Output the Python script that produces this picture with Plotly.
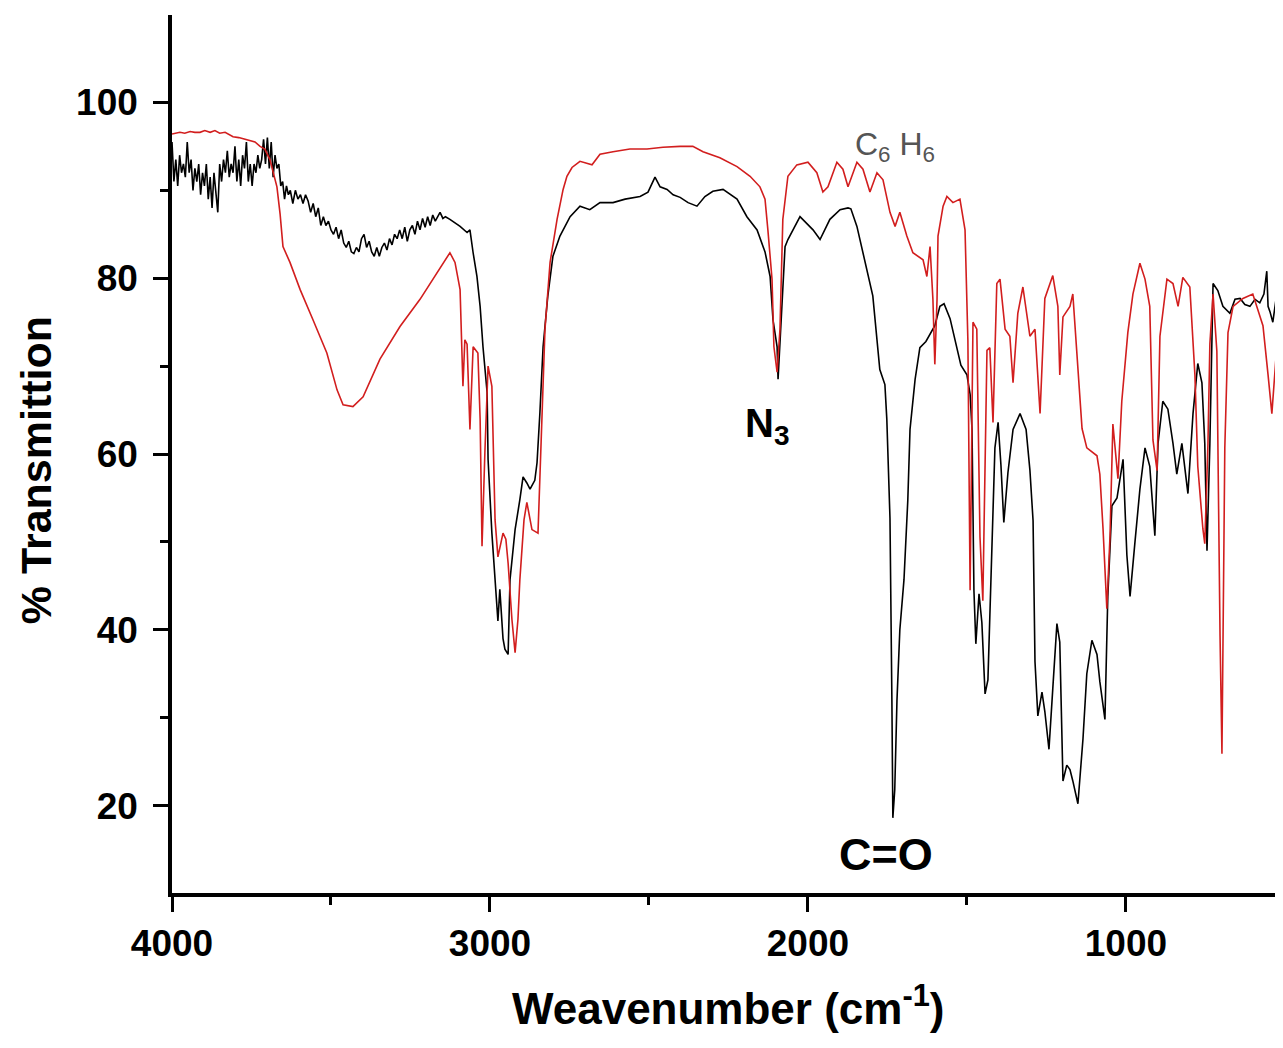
import plotly.graph_objects as go

# ---------------- data (wavenumber cm-1, % transmittance) ----------------
sample_wn = [4000, 3994, 3988, 3982, 3976, 3970, 3964, 3958, 3952, 3946, 3940, 3934, 3928, 3922,
             3916, 3910, 3904, 3898, 3892, 3886, 3880, 3874, 3868, 3862, 3856, 3850, 3844, 3838,
             3832, 3826, 3820, 3814, 3808, 3802, 3796, 3790, 3784, 3778, 3772, 3766, 3760, 3754,
             3748, 3742, 3736, 3730, 3724, 3718, 3712, 3706, 3700, 3694, 3688, 3682, 3676, 3670,
             3664, 3658, 3652, 3646, 3640, 3634, 3628, 3620, 3612, 3604, 3596, 3588, 3580, 3572,
             3564, 3556, 3548, 3540, 3532, 3524, 3516, 3508, 3500, 3492, 3484, 3476, 3468, 3460,
             3452, 3444, 3436, 3428, 3420, 3412, 3404, 3396, 3388, 3380, 3372, 3364, 3356, 3348,
             3340, 3332, 3324, 3316, 3308, 3300, 3292, 3284, 3276, 3268, 3260, 3252, 3244, 3236,
             3228, 3220, 3212, 3204, 3196, 3188, 3180, 3172, 3164, 3157, 3148, 3140, 3126, 3110,
             3094, 3072, 3063, 3053, 3041, 3031, 3022, 3009, 3006, 2994, 2984, 2975, 2969, 2959,
             2953, 2943, 2937, 2921, 2906, 2896, 2884, 2874, 2859, 2852, 2843, 2833, 2818, 2802,
             2780, 2748, 2717, 2686, 2654, 2613, 2575, 2528, 2503, 2481, 2465, 2443, 2424, 2402,
             2377, 2349, 2324, 2299, 2267, 2245, 2223, 2192, 2160, 2135, 2119, 2110, 2097, 2094,
             2088, 2082, 2072, 2063, 2025, 1984, 1962, 1931, 1899, 1874, 1865, 1846, 1821, 1796,
             1774, 1758, 1752, 1742, 1736, 1733, 1727, 1720, 1711, 1698, 1686, 1679, 1663, 1648,
             1629, 1601, 1585, 1572, 1553, 1535, 1519, 1500, 1490, 1484, 1478, 1472, 1462, 1453,
             1443, 1434, 1424, 1412, 1402, 1393, 1384, 1371, 1355, 1333, 1314, 1302, 1292, 1286,
             1277, 1264, 1255, 1242, 1230, 1217, 1208, 1198, 1186, 1176, 1167, 1151, 1135, 1123,
             1107, 1091, 1082, 1066, 1057, 1044, 1028, 1009, 997, 987, 972, 956, 940, 925, 909,
             899, 884, 868, 852, 840, 824, 805, 789, 774, 761, 752, 745, 736, 726, 711, 695, 673,
             657, 641, 626, 610, 594, 579, 566, 557, 553, 547, 538, 528, 522, 509, 506]
sample_t = [95.5, 91, 93.5, 90.5, 94, 92, 93, 91.5, 95.5, 92, 93.5, 90, 92.5, 91,
            93, 89.5, 92, 90.5, 93, 89, 91.5, 88, 92, 90, 87.5, 93, 91, 93.5,
            92, 94.5, 91.5, 93, 92, 95, 91, 93.5, 90.5, 94, 92.5, 95.5, 91, 93,
            90.5, 93, 92, 94, 92.5, 93.5, 95.8, 93, 96, 92.5, 95.5, 91.5, 94, 92.5,
            93, 90.5, 91, 89, 90.5, 89.5, 90, 88.5, 90, 89, 89.5, 88.5, 89.5, 88.8,
            87.5, 88.5, 87, 88, 86, 87, 86, 86.5, 85.5, 85, 85.8, 84.5, 85.5, 84,
            83.5, 84.2, 83, 82.8, 83.5, 83, 84.5, 85, 83.5, 84.2, 83, 82.5, 83.5, 82.5,
            83.5, 84, 83.2, 84.5, 83.8, 85, 84.5, 85.5, 84.5, 85.8, 84.2, 85.5, 86, 85,
            86.5, 85.5, 86.8, 85.8, 87, 86, 87.2, 86.5, 87, 87.5, 86.8, 87, 86.7, 86.3,
            85.9, 85.2, 85.5, 82.9, 80.2, 76.8, 72.2, 67, 59.4, 51, 46, 41, 44.6, 39,
            37.8, 37.2, 45.7, 51.4, 54.8, 57.4, 56.7, 56, 57, 59, 64.7, 72.2, 78, 82.5,
            84.8, 87, 88.2, 87.8, 88.6, 88.6, 89, 89.3, 89.8, 91.5, 90.4, 90.1, 89.5, 89.2,
            88.6, 88.2, 89.3, 89.9, 90.1, 89.5, 89, 87, 85.5, 83, 80.2, 75.3, 72.2, 68.5,
            73, 76, 83.6, 84.4, 87, 85.5, 84.4, 86.7, 87.8, 88, 87.9, 85.9, 81.9, 78,
            69.6, 67.9, 64, 52.7, 32, 18.6, 21.8, 32, 40, 45.7, 54.7, 62.8, 68.5, 72.1,
            72.8, 74.6, 76.8, 77.1, 75.4, 72.5, 70.1, 69, 66.8, 62.8, 44.5, 38.4, 44.1, 40.8,
            32.7, 34.3, 47.3, 60.7, 63.6, 58.7, 52.2, 57.9, 62.8, 64.6, 62.8, 58.2, 52.4, 36.4,
            30.2, 32.9, 30.7, 26.4, 33.3, 40.7, 38.6, 22.8, 24.6, 24.1, 22.8, 20.2, 27.6, 35,
            38.8, 37.2, 34.1, 29.8, 43.8, 54.1, 55, 59.4, 48.5, 43.8, 49.8, 56, 60.7, 58.6, 50.7,
            61.2, 66, 65.1, 61.2, 57.7, 61.2, 55.5, 64.6, 70.3, 68.1, 61.2, 49, 61.2, 79.4, 78.6, 76.8, 76,
            77.6, 77.7, 77, 76.8, 77.6, 77.2, 78.2, 80.8, 76.8, 76.2, 75, 77.6, 68.6, 71.7, 73]

ref_wn = [4000, 3990, 3975, 3960, 3943, 3928, 3912, 3897, 3880, 3865, 3850, 3833, 3820, 3808,
          3790, 3770, 3755, 3739, 3723, 3708, 3692, 3670, 3660, 3651, 3629, 3597, 3557, 3513,
          3481, 3462, 3431, 3399, 3346, 3283, 3220, 3179, 3126, 3110, 3094, 3085, 3079, 3072,
          3063, 3053, 3038, 3031, 3025, 3016, 3006, 2994, 2984, 2975, 2959, 2950, 2943, 2931,
          2921, 2912, 2906, 2893, 2884, 2868, 2849, 2836, 2827, 2811, 2789, 2770, 2758, 2742,
          2717, 2679, 2654, 2613, 2560, 2506, 2456, 2402, 2362, 2330, 2277, 2223, 2182, 2151,
          2135, 2126, 2113, 2107, 2097, 2088, 2082, 2079, 2063, 2035, 2000, 1972, 1953, 1937,
          1909, 1890, 1874, 1846, 1827, 1805, 1783, 1764, 1742, 1726, 1711, 1689, 1670, 1638,
          1626, 1616, 1607, 1601, 1594, 1591, 1575, 1563, 1544, 1522, 1506, 1497, 1490, 1481,
          1469, 1459, 1450, 1443, 1437, 1428, 1418, 1406, 1396, 1380, 1365, 1355, 1340, 1324,
          1302, 1286, 1270, 1255, 1230, 1214, 1208, 1198, 1176, 1167, 1151, 1138, 1123, 1091,
          1082, 1072, 1060, 1050, 1041, 1025, 1013, 994, 978, 956, 940, 925, 915, 902, 893,
          871, 852, 836, 821, 799, 783, 774, 758, 752, 742, 736, 726, 714, 704, 698, 689,
          679, 663, 632, 601, 569, 553, 541, 525, 509, 506]
ref_t = [96.4, 96.5, 96.6, 96.5, 96.7, 96.6, 96.6, 96.8, 96.6, 96.8, 96.5, 96.6, 96.3, 96.1,
         96.0, 95.8, 95.6, 95.5, 95.0, 94.7, 93.5, 90.4, 87.3, 83.6, 81.8, 78.7, 75.3, 71.5,
         67.3, 65.6, 65.4, 66.5, 70.8, 74.5, 77.6, 79.9, 82.9, 81.8, 78.7, 67.7, 73, 72.5,
         62.8, 72.2, 71.5, 64, 49.5, 60.2, 70, 67.7, 52.5, 48.3, 51, 50.3, 47.6, 41.2,
         37.4, 41.2, 45.7, 52.5, 54.5, 51.4, 51, 64.7, 74.2, 81.8, 86.7, 90.1, 91.6, 92.6,
         93.3, 92.9, 94.1, 94.4, 94.7, 94.7, 94.9, 95, 95, 94.4, 93.7, 92.7, 91.6, 90.4,
         89, 85.5, 79.9, 72.2, 69.3, 74.2, 81.3, 86.7, 91.6, 92.9, 93.2, 92, 89.8, 90.4,
         93.2, 92.4, 90.4, 93.2, 92.4, 89.8, 92, 91.2, 87.5, 85.9, 87.5, 84.8, 82.9, 82.1,
         80.2, 83.6, 77.6, 70.2, 77.6, 84.8, 88.2, 89.3, 88.6, 89, 85.5, 72.9, 44.5, 75,
         74.2, 50.6, 43.3, 57, 71.8, 72.1, 63.6, 79.4, 79.9, 74.2, 73.4, 68.1, 76, 79,
         73.4, 74.2, 64.6, 77.7, 80.3, 76.8, 69, 75.6, 76.8, 78.2, 69.8, 62.9, 60.7, 59.8,
         57.7, 51.5, 42.4, 50.7, 63.4, 57.2, 66, 73.8, 78.2, 81.7, 79.9, 76.8, 61.6, 58.1, 73.4,
         79.9, 79.4, 76.8, 80.1, 79, 69, 58.6, 51.5, 49.8, 61.2, 72.5, 78.2, 71.7, 39.3, 25.9, 60.7,
         73.8, 76.8, 77.7, 78.2, 74.6, 69, 64.6, 72.5, 76.8, 77]

x_ticks = [4000, 3000, 2000, 1000]
y_ticks = [20, 40, 60, 80, 100]

FONT = "Liberation Sans, Arial, sans-serif"

fig = go.Figure()
fig.add_trace(go.Scatter(x=sample_wn, y=sample_t, mode="lines",
                         line=dict(color="black", width=1.6), showlegend=False))
fig.add_trace(go.Scatter(x=ref_wn, y=ref_t, mode="lines",
                         line=dict(color="#d21e1e", width=1.6), showlegend=False))

# peak labels
fig.add_annotation(x=2130, y=63.2, xref="x", yref="y", showarrow=False,
                   text="<b>N<sub>3</sub></b>", font=dict(family=FONT, size=40, color="black"))
fig.add_annotation(x=1755, y=14.4, xref="x", yref="y", showarrow=False,
                   text="<b>C=O</b>", font=dict(family=FONT, size=45, color="black"))
fig.add_annotation(x=1725, y=95.0, xref="x", yref="y", showarrow=False,
                   text="C<sub>6</sub> H<sub>6</sub>", font=dict(family=FONT, size=32, color="#555555"))

# axis titles
fig.add_annotation(x=0.5, y=-0.128, xref="paper", yref="paper", showarrow=False,
                   xanchor="center", yanchor="middle",
                   text="<b>Weavenumber (cm<sup>-1</sup>)</b>",
                   font=dict(family=FONT, size=44, color="black"))
fig.add_annotation(x=-0.123, y=0.482, xref="paper", yref="paper", showarrow=False,
                   xanchor="center", yanchor="middle", textangle=-90,
                   text="<b>% Transmittion</b>",
                   font=dict(family=FONT, size=43, color="black"))

axis_common = dict(showgrid=False, zeroline=False, showline=True, linecolor="black",
                   linewidth=3.5, ticks="outside", tickwidth=3, ticklen=15, tickcolor="black",
                   automargin=False,
                   tickfont=dict(family=FONT, size=37, color="black", weight="bold"))

fig.update_xaxes(range=[4000, 506], tickvals=x_ticks, ticktext=[str(v) for v in x_ticks],
                 minor=dict(ticks="outside", dtick=500, tick0=0, ticklen=8, tickwidth=3,
                            tickcolor="black"),
                 ticklabelstandoff=0,
                 **axis_common)
fig.update_yaxes(range=[10.05, 109.95], tickvals=y_ticks, ticktext=[str(v) for v in y_ticks],
                 minor=dict(ticks="outside", dtick=10, tick0=0, ticklen=8, tickwidth=3,
                            tickcolor="black"),
                 ticklabelstandoff=8,
                 **axis_common)

# the page body adds an 8 px offset, so the figure is sized to put the plot area
# at x 172..1283 and y 15..893 of the window
fig.update_layout(width=1275, height=1032, plot_bgcolor="white", paper_bgcolor="white",
                  margin=dict(l=164, r=0, t=7, b=147, autoexpand=False), showlegend=False)

fig.write_html("out.html")
